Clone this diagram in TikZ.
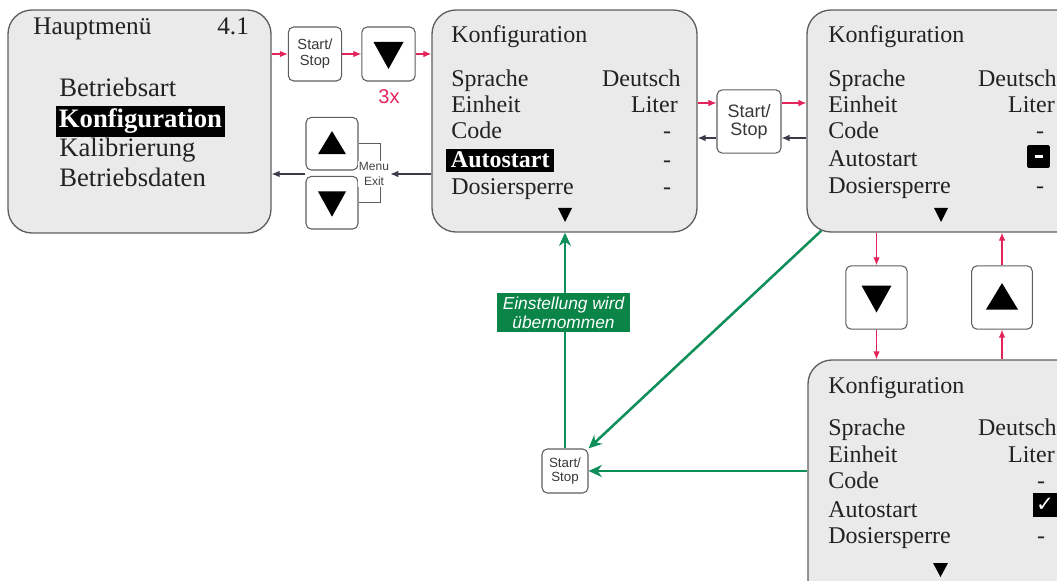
\documentclass[tikz,border=0pt]{standalone}
\usepackage{fontspec}
\setmainfont{Liberation Serif}
\setsansfont{Liberation Sans}
\newfontfamily\symfont{DejaVu Sans}
\usetikzlibrary{arrows.meta,calc,fit}
\definecolor{panelfill}{HTML}{EAEAEA}
\definecolor{panelline}{HTML}{5E5E5E}
\definecolor{rd}{HTML}{E3245A}
\definecolor{gr}{HTML}{0E8E58}
\definecolor{grfill}{HTML}{0A8547}
\definecolor{dk}{HTML}{3A3A4A}
\definecolor{tx}{HTML}{222222}
\begin{document}
\begin{tikzpicture}[x=0.75pt,y=-0.75pt,
 panel/.style={draw=panelline,line width=1pt,fill=panelfill,rounded corners=18pt,inner sep=0pt},
 btn/.style={draw=panelline,line width=0.8pt,fill=white,rounded corners=4pt,inner sep=0pt,text=tx!90,align=center},
 txt/.style={anchor=base west,inner sep=0pt,font=\fontsize{18}{20}\selectfont,text=tx},
 val/.style={anchor=base east,inner sep=0pt,font=\fontsize{18}{20}\selectfont,text=tx},
 dashval/.style={anchor=base,inner sep=0pt,font=\fontsize{18}{20}\selectfont,text=tx},
 hmtxt/.style={anchor=base west,inner sep=0pt,font=\fontsize{20}{22}\selectfont,text=tx},
 hilite/.style={anchor=base west,fill=black,text=white,inner ysep=2.5pt,font=\bfseries\fontsize{#1}{22}\selectfont},
 redarr/.style={draw=rd,line width=0.9pt,-{Latex[length=6pt,width=5pt]}},
 dkarr/.style={draw=dk,line width=0.9pt,-{Latex[length=6pt,width=5pt]}},
 grarr/.style={draw=gr,line width=1.9pt,-{Stealth[length=10pt,width=9pt]}},
 tridown/.style={path picture={\fill[black,sharp corners] ($(path picture bounding box.center)+(-#1,-0.8*#1)$) -- ++(2*#1,0) -- ++(-#1,1.8*#1) -- cycle;}},
 triup/.style={path picture={\fill[black,sharp corners] ($(path picture bounding box.center)+(-#1,0.75*#1)$) -- ++(2*#1,0) -- ++(-#1,-1.65*#1) -- cycle;}}
]
\useasboundingbox (0,0) rectangle (1057,581);
\clip (0,0) rectangle (1057,581);

% panels
\node[panel, fit={(8,10) (271,233)}] (hm) {};
\node[panel, fit={(432,10) (697,232)}] (cfg1) {};
\node[panel, fit={(807,10) (1090,232)}] (cfg2) {};
\node[panel, fit={(808,360) (1090,610)}] (cfg3) {};

% Hauptmenue texts
\node[txt, font=\fontsize{19}{20}\selectfont] (hmt) at (33,35) {Hauptmenü};
\node[txt, font=\fontsize{19}{20}\selectfont] (hmv) at (217,35) {4.1};
\node[hmtxt] (hm1) at (59,97) {Betriebsart};
\node[hilite=20, inner xsep=2pt] (hm2) at (56,128) {Konfiguration};
\node[hmtxt] (hm3) at (59,157) {Kalibrierung};
\node[hmtxt] (hm4) at (59,187) {Betriebsdaten};

% Konfiguration 1
\node[txt] (c1t) at (451,43) {Konfiguration};
\node[txt] (c1a) at (451,87) {Sprache};
\node[txt] (c1b) at (451,113) {Einheit};
\node[txt] (c1c) at (451,139) {Code};
\node[hilite=18, inner xsep=3.5pt] (c1d) at (446,168) {Autostart};
\node[txt] (c1e) at (451,195) {Dosiersperre};
\node[val] (c1av) at (681,87) {Deutsch};
\node[val] (c1bv) at (678,113) {Liter};
\node[dashval] (c1cv) at (667,139) {-};
\node[dashval] (c1dv) at (667,168) {-};
\node[dashval] (c1ev) at (667,195) {-};
\fill[black] (558,208) -- (572,208) -- (565,222) -- cycle;

% Konfiguration 2
\node[txt] (c2t) at (828,43) {Konfiguration};
\node[txt] (c2a) at (828,87) {Sprache};
\node[txt] (c2b) at (828,113) {Einheit};
\node[txt] (c2c) at (828,139) {Code};
\node[txt] (c2d) at (828,167) {Autostart};
\node[txt] (c2e) at (828,194) {Dosiersperre};
\node[val] (c2av) at (1057,87) {Deutsch};
\node[val] (c2bv) at (1055,113) {Liter};
\node[dashval] (c2cv) at (1040,139) {-};
\node[fill=black, minimum width=17pt, minimum height=17pt, inner sep=0pt, rounded corners=1pt] (c2dv) at (1038.5,156.5) {\color{white}\rule{6pt}{2pt}};
\node[dashval] (c2ev) at (1040,194) {-};
\fill[black] (934,208) -- (948,208) -- (941,222) -- cycle;

% Konfiguration 3
\node[txt] (c3t) at (828,393) {Konfiguration};
\node[txt] (c3a) at (828,435) {Sprache};
\node[txt] (c3b) at (828,462) {Einheit};
\node[txt] (c3c) at (828,488) {Code};
\node[txt] (c3d) at (828,517) {Autostart};
\node[txt] (c3e) at (828,543) {Dosiersperre};
\node[val] (c3av) at (1057,435) {Deutsch};
\node[val] (c3bv) at (1055,462) {Liter};
\node[dashval] (c3cv) at (1041,488) {-};
\node[fill=black, minimum width=18pt, minimum height=18pt, inner sep=0pt, text=white, font=\symfont\fontsize{16}{16}\selectfont] (c3dv) at (1045,505) {✓};
\node[dashval] (c3ev) at (1041,543) {-};
\fill[black] (933,563) -- (948,563) -- (940.5,577) -- cycle;

% buttons
\node[btn, minimum width=40pt, minimum height=40.5pt, font=\sffamily\fontsize{11}{12}\selectfont] (ss1) at (315,54) {Start/\\Stop};
\node[btn, minimum width=40pt, minimum height=40.5pt, tridown=15] (dn1) at (388.5,54) {};
\node[text=rd, font=\sffamily\fontsize{15}{15}\selectfont, inner sep=0pt] (n3x) at (389,97) {3x};
\node[btn, minimum width=39pt, minimum height=39.5pt, triup=14] (up1) at (332,143.7) {};
\node[btn, minimum width=39pt, minimum height=39.5pt, tridown=14] (dn2) at (332,202.7) {};
\node[btn, minimum width=48pt, minimum height=47.5pt, font=\sffamily\fontsize{13.5}{13.5}\selectfont] (ss2) at (749,121.5) {Start/\\Stop};
\node[btn, minimum width=46pt, minimum height=47.5pt, tridown=15] (dn3) at (876.5,297.5) {};
\node[btn, minimum width=45.5pt, minimum height=47.5pt, triup=16] (up3) at (1002,297.5) {};
\node[btn, minimum width=34.5pt, minimum height=33pt, font=\sffamily\fontsize{10}{10.5}\selectfont] (ss3) at (565,471) {Start/\\Stop};

% bracket and menu/exit
\coordinate (brk) at (380,0);
\draw[panelline, line width=0.6pt] (up1.east) -- (brk |- up1.east) -- (brk |- dn2.east) -- (dn2.east);
\node[fill=white, inner sep=0.8pt, align=center, text=tx!85, font=\sffamily\fontsize{9}{11}\selectfont] (me) at (374,174) {Menu\\Exit};

% red / dark connectors
\coordinate (yin) at (0,103);
\coordinate (yout) at (0,138);
\draw[redarr] (hm.east |- ss1) -- (ss1.west);
\draw[redarr] (ss1.east) -- (dn1.west);
\draw[redarr] (dn1.east) -- (cfg1.west |- dn1);
\draw[dkarr] (cfg1.west |- me) -- (me.east);
\draw[dkarr] (up1.west |- me) -- (hm.east |- me);
\draw[redarr] (cfg1.east |- yin) -- (ss2.west |- yin);
\draw[redarr] (ss2.east |- yin) -- (cfg2.west |- yin);
\draw[dkarr] (cfg2.west |- yout) -- (ss2.east |- yout);
\draw[dkarr] (ss2.west |- yout) -- (cfg1.east |- yout);
\draw[redarr] (cfg2.south -| dn3) -- (dn3.north);
\draw[redarr] (dn3.south) -- (cfg3.north -| dn3);
\draw[redarr] (cfg3.north -| up3) -- (up3.south);
\draw[redarr] (up3.north) -- (cfg2.south -| up3);

% green connectors
\coordinate (dgs) at ($(cfg2.south west)+(15,-2)$);
\draw[grarr] (ss3.north) -- (cfg1.south -| ss3);
\draw[grarr] (dgs) -- (ss3.north east);
\draw[grarr] (cfg3.west |- ss3) -- (ss3.east);
\node[fill=grfill, text=white, align=center, inner xsep=2pt, inner ysep=2pt, minimum width=100pt, minimum height=29pt, font=\sffamily\itshape\fontsize{13}{14}\selectfont] (lbl) at (563.5,312.5) {Einstellung wird\\übernommen};
\end{tikzpicture}
\end{document}
